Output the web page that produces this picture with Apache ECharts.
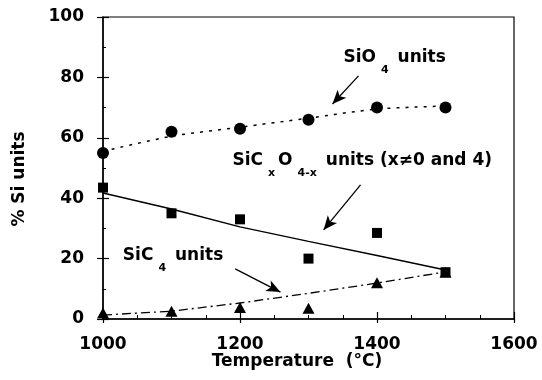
<!DOCTYPE html>
<html>
<head>
<meta charset="utf-8">
<script src="https://cdn.jsdelivr.net/npm/echarts@6/dist/echarts.min.js"></script>
<style>
  html, body { margin: 0; padding: 0; background: #fff; }
  #chart { width: 542px; height: 380px; }
</style>
</head>
<body>
<div id="chart"></div>
<script>
// Fraction of Si units vs. pyrolysis temperature
const temps = [1000, 1100, 1200, 1300, 1400, 1500];

const sio4 = [55, 62, 63, 66, 70, 70];
const sio4Fit = [55.5, 60.5, 63.5, 66.5, 69.5, 70.5];

const sicxo = [43.5, 35, 33, 20, 28.5, 15.5];
const sicxoFit = [41.7, 36.4, 30.5, 25.7, 21, 16.2];

const sic4 = [2, 2.6, 3.8, 3.6, 12, 15.5];
const sic4Fit = [1.3, 2.6, 5.3, 8.5, 11.9, 15.6];

const xTicks = [1000, 1200, 1400, 1600];
const yTicks = [0, 20, 40, 60, 80, 100];

const FONT = 'DejaVu Sans';
const INK = '#000';

const pairs = (ys) => temps.map((t, i) => [t, ys[i]]);

const chart = echarts.init(document.getElementById('chart'), null, { renderer: 'canvas' });

const xBase = {
  type: 'value',
  min: xTicks[0],
  max: xTicks[xTicks.length - 1],
  interval: xTicks[1] - xTicks[0],
  splitLine: { show: false }
};
const yBase = {
  type: 'value',
  min: yTicks[0],
  max: yTicks[yTicks.length - 1],
  interval: yTicks[1] - yTicks[0],
  splitLine: { show: false }
};

const tickText = {
  color: INK, fontFamily: FONT, fontWeight: 'bold', fontSize: 17,
  showMinLabel: true, showMaxLabel: true,
  formatter: (v) => String(v)
};

const option = {
  animation: false,
  backgroundColor: '#fff',
  grid: {
    left: 103, right: 28, top: 17, bottom: 61,
    show: true, borderColor: INK, borderWidth: 1.2, backgroundColor: 'transparent'
  },
  xAxis: [
    Object.assign({}, xBase, {
      position: 'bottom',
      axisLine: { lineStyle: { color: INK, width: 1.5 } },
      axisTick: { show: true, length: 4, lineStyle: { color: INK, width: 1.2 } },
      minorTick: { show: false },
      axisLabel: Object.assign({ margin: 17 }, tickText)
    }),
    Object.assign({}, xBase, {
      position: 'bottom',
      axisLine: { show: false },
      axisTick: { show: true, inside: true, length: 7, lineStyle: { color: INK, width: 1.2 } },
      minorTick: { show: true, splitNumber: 4, length: 4, lineStyle: { color: INK, width: 1 } },
      axisLabel: { show: false }
    })
  ],
  yAxis: [
    Object.assign({}, yBase, {
      position: 'left',
      axisLine: { show: true, lineStyle: { color: INK, width: 1.5 } },
      axisTick: { show: true, length: 6, lineStyle: { color: INK, width: 1.2 } },
      minorTick: { show: false },
      axisLabel: Object.assign({ margin: 19 }, tickText)
    }),
    Object.assign({}, yBase, {
      position: 'left',
      axisLine: { show: false },
      axisTick: { show: true, inside: true, length: 6, lineStyle: { color: INK, width: 1.2 } },
      minorTick: { show: true, splitNumber: 2, length: 3, lineStyle: { color: INK, width: 1 } },
      axisLabel: { show: false }
    })
  ],
  series: [
    {
      name: 'SiO4 fit', type: 'line', data: pairs(sio4Fit), symbol: 'none', smooth: 0.3,
      lineStyle: { color: INK, width: 1.5, type: [3, 6] }, z: 2
    },
    {
      name: 'SiCxO4-x fit', type: 'line', data: pairs(sicxoFit), symbol: 'none',
      lineStyle: { color: INK, width: 1.5, type: 'solid' }, z: 2
    },
    {
      name: 'SiC4 fit', type: 'line', data: pairs(sic4Fit), symbol: 'none',
      lineStyle: { color: INK, width: 1.3, type: [9, 4, 2, 4] }, z: 2
    },
    {
      name: 'SiC4', type: 'scatter', data: pairs(sic4), symbol: 'triangle', symbolSize: [12, 11],
      itemStyle: { color: INK, opacity: 1 }, z: 3
    },
    {
      name: 'SiCxO4-x', type: 'scatter', data: pairs(sicxo), symbol: 'rect', symbolSize: 10,
      itemStyle: { color: INK, opacity: 1 }, z: 4
    },
    {
      name: 'SiO4', type: 'scatter', data: pairs(sio4), symbol: 'circle', symbolSize: 12,
      itemStyle: { color: INK, opacity: 1 }, z: 4
    },
    {
      // pointer arrows from the labels to their curves
      name: 'pointers', type: 'line', data: [], silent: true,
      markLine: {
        silent: true, animation: false,
        symbol: ['none', 'arrow'], symbolSize: [9, 14],
        label: { show: false },
        lineStyle: { color: INK, width: 1.3, type: 'solid' },
        data: [
          [{ coord: [1373, 80.5] }, { coord: [1335, 71.2] }],
          [{ coord: [1376, 44.4] }, { coord: [1322, 29.5] }],
          [{ coord: [1193, 16.6] }, { coord: [1259, 8.9] }]
        ]
      }
    }
  ]
};

chart.setOption(option);

// Labels with subscripts, anchored in data space
const rich = {
  m: { fontFamily: FONT, fontWeight: 'bold', fontSize: 17, lineHeight: 18, verticalAlign: 'top', color: INK },
  s: { fontFamily: FONT, fontWeight: 'bold', fontSize: 11, lineHeight: 12, padding: [16, 3, 0, 5], verticalAlign: 'top', color: INK }
};

function label(text, at) {
  const p = chart.convertToPixel({ gridIndex: 0 }, at);
  return {
    type: 'text', x: p[0], y: p[1],
    style: { text: text, rich: rich, align: 'left', verticalAlign: 'top', fill: INK }
  };
}

chart.setOption({
  graphic: [
    label('{m|SiO}{s|4}{m| units}', [1351, 89.5]),
    label('{m|SiC}{s|x}{m|O}{s|4-x}{m| units (x≠0 and 4)}', [1189, 55.3]),
    label('{m|SiC}{s|4}{m| units}', [1029, 23.8]),
    {
      type: 'text', x: 20, y: 179, rotation: Math.PI / 2,
      style: { text: '% Si units', fontFamily: FONT, fontWeight: 'bold', fontSize: 17, fill: INK, align: 'center', verticalAlign: 'middle' }
    },
    {
      type: 'text', x: 297, y: 362,
      style: { text: 'Temperature  (°C)', fontFamily: FONT, fontWeight: 'bold', fontSize: 17, fill: INK, align: 'center', verticalAlign: 'middle' }
    }
  ]
});
</script>
</body>
</html>
